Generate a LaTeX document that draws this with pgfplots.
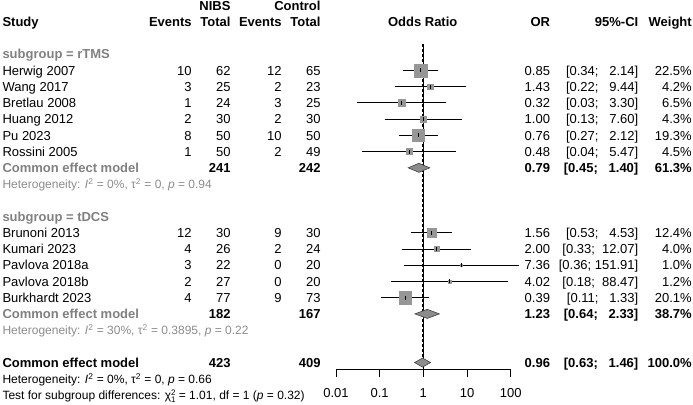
\documentclass[border=0pt]{standalone}
\usepackage{pgfplots}
\pgfplotsset{compat=1.18}
\usepackage{pgfplotstable}
\usepackage{fontspec}
\setmainfont{Liberation Sans}
\definecolor{sqgray}{RGB}{150,150,150}
\definecolor{dmgray}{RGB}{140,140,140}
\definecolor{lblgray}{RGB}{128,128,128}
\definecolor{hetgray}{RGB}{140,140,140}

% row = -(row index of the forest plot)
\pgfplotstableread{
row  or    lo    hi      w
-4   0.85  0.34  2.14    22.5
-5   1.43  0.22  9.44    4.2
-6   0.32  0.03  3.30    6.5
-7   1.00  0.13  7.60    4.3
-8   0.76  0.27  2.12    19.3
-9   0.48  0.04  5.47    4.5
-14  1.56  0.53  4.53    12.4
-15  2.00  0.33  12.07   4.0
-16  7.36  0.36  151.91  1.0
-17  4.02  0.18  88.47   1.2
-18  0.39  0.11  1.33    20.1
}\studies

\newcommand\yy[1]{-(10.2+16.23*#1)}
\newcommand\Lt[2]{\node[anchor=base west] at (2.5,{\yy{#1}}) {#2};}
\newcommand\Rt[3]{\node[anchor=base east] at (#1,{\yy{#2}}) {#3};}
\newcommand\Ct[3]{\node[anchor=base] at (#1,{\yy{#2}}) {#3};}
\newcommand\study[9]{\Lt{#1}{#2}\Rt{191.7}{#1}{#3}\Rt{230.5}{#1}{#4}\Rt{281.7}{#1}{#5}\Rt{320.5}{#1}{#6}\Rt{550}{#1}{#7}\Rt{638.3}{#1}{#8}\Rt{691.7}{#1}{#9}}
\newcommand\hetfont{\fontsize{12bp}{14bp}\selectfont}
\newcommand\sq{\textsuperscript{2}}
\newcommand\smallfig[1]{{\fontsize{8bp}{8bp}\selectfont #1}}

\begin{document}
\fontsize{13bp}{15.6bp}\selectfont
\begin{tikzpicture}[x=1bp,y=1bp]
\path[use as bounding box] (0,0) rectangle (693,-404);
\begin{axis}[
  at={(336bp,-369.3bp)}, anchor=south west,
  scale only axis, width=174.7bp, height=369.3bp,
  xmode=log, xmin=0.01, xmax=100,
  ymin=-22.415, ymax=0.3389,
  axis x line*=bottom, axis y line=none,
  xtick={0.01,0.1,1,10,100},
  xticklabels={0.01,0.1,1,10,100},
  xminorticks=false,
  xtick align=outside, major tick length=7.7bp,
  axis line style={line width=0.9bp, black},
  every tick/.style={line width=0.9bp, black},
  xticklabel style={anchor=base, yshift=-20bp},
  clip=false,
]
% reference lines
\addplot[black, line width=0.8bp] coordinates {(1,-2.4) (1,-22.415)};
\addplot[black, line width=0.8bp, dash pattern=on 3bp off 2bp] coordinates {(0.96,-2.4) (0.96,-22.415)};
% squares
\addplot[scatter, only marks, mark=square*,
  scatter/use mapped color={draw=sqgray, fill=sqgray},
  visualization depends on={\thisrow{w} \as \wt},
  scatter/@pre marker code/.append style={/tikz/mark size={1.37*sqrt(\wt)}}]
  table[x=or, y=row] {\studies};
% confidence intervals
\addplot[black, line width=0.9bp] coordinates {(0.34,-4) (2.14,-4)};
\addplot[black, line width=0.9bp] coordinates {(0.22,-5) (9.44,-5)};
\addplot[black, line width=0.9bp] coordinates {(0.03,-6) (3.30,-6)};
\addplot[black, line width=0.9bp] coordinates {(0.13,-7) (7.60,-7)};
\addplot[black, line width=0.9bp] coordinates {(0.27,-8) (2.12,-8)};
\addplot[black, line width=0.9bp] coordinates {(0.04,-9) (5.47,-9)};
\addplot[black, line width=0.9bp] coordinates {(0.53,-14) (4.53,-14)};
\addplot[black, line width=0.9bp] coordinates {(0.33,-15) (12.07,-15)};
\addplot[black, line width=0.9bp] coordinates {(0.36,-16) (151.91,-16)};
\addplot[black, line width=0.9bp] coordinates {(0.18,-17) (88.47,-17)};
\addplot[black, line width=0.9bp] coordinates {(0.11,-18) (1.33,-18)};
% point estimates
\addplot[only marks, mark=|, mark size=2bp, black, mark options={line width=0.8bp}] table[x=or, y=row] {\studies};
% diamonds
\addplot[fill=dmgray, draw=black!75, line width=0.6bp] coordinates {(0.45,-10) (0.79,-9.72) (1.40,-10) (0.79,-10.28)} -- cycle;
\addplot[fill=dmgray, draw=black!75, line width=0.6bp] coordinates {(0.64,-19) (1.23,-18.72) (2.33,-19) (1.23,-19.28)} -- cycle;
\addplot[fill=dmgray, draw=black!75, line width=0.6bp] coordinates {(0.63,-22) (0.96,-21.72) (1.46,-22) (0.96,-22.28)} -- cycle;
\end{axis}

\begin{scope}[every node/.style={inner sep=0pt, outer sep=0pt}]
% header
\Rt{230.5}{0}{\bfseries NIBS}
\Rt{320.5}{0}{\bfseries Control}
\Lt{1}{\bfseries Study}
\Rt{191.7}{1}{\bfseries Events}
\Rt{230.5}{1}{\bfseries Total}
\Rt{281.7}{1}{\bfseries Events}
\Rt{320.5}{1}{\bfseries Total}
\Ct{422.7}{1}{\bfseries Odds Ratio}
\Rt{550}{1}{\bfseries OR}
\Rt{638.3}{1}{\bfseries 95\%-CI}
\Rt{691.7}{1}{\bfseries Weight}
% rTMS
\Lt{3}{\color{lblgray}\bfseries subgroup = rTMS}
\study{4}{Herwig 2007}{10}{62}{12}{65}{0.85}{[0.34;\ \ \ 2.14]}{22.5\%}
\study{5}{Wang 2017}{3}{25}{2}{23}{1.43}{[0.22;\ \ \ 9.44]}{4.2\%}
\study{6}{Bretlau 2008}{1}{24}{3}{25}{0.32}{[0.03;\ \ \ 3.30]}{6.5\%}
\study{7}{Huang 2012}{2}{30}{2}{30}{1.00}{[0.13;\ \ \ 7.60]}{4.3\%}
\study{8}{Pu 2023}{8}{50}{10}{50}{0.76}{[0.27;\ \ \ 2.12]}{19.3\%}
\study{9}{Rossini 2005}{1}{50}{2}{49}{0.48}{[0.04;\ \ \ 5.47]}{4.5\%}
\Lt{10}{\color{lblgray}\bfseries Common effect model}
\Rt{230.5}{10}{\bfseries 241}
\Rt{320.5}{10}{\bfseries 242}
\Rt{550}{10}{\bfseries 0.79}
\Rt{638.3}{10}{\bfseries [0.45;\ \ \ 1.40]}
\Rt{691.7}{10}{\bfseries 61.3\%}
\Lt{11}{\hetfont\color{hetgray}Heterogeneity: \textit{I}\sq{} = 0\%, τ\sq{} = 0, \textit{p} = 0.94}
% tDCS
\Lt{13}{\color{lblgray}\bfseries subgroup = tDCS}
\study{14}{Brunoni 2013}{12}{30}{9}{30}{1.56}{[0.53;\ \ \ 4.53]}{12.4\%}
\study{15}{Kumari 2023}{4}{26}{2}{24}{2.00}{[0.33;\ \ 12.07]}{4.0\%}
\study{16}{Pavlova 2018a}{3}{22}{0}{20}{7.36}{[0.36;\ 151.91]}{1.0\%}
\study{17}{Pavlova 2018b}{2}{27}{0}{20}{4.02}{[0.18;\ \ 88.47]}{1.2\%}
\study{18}{Burkhardt 2023}{4}{77}{9}{73}{0.39}{[0.11;\ \ \ 1.33]}{20.1\%}
\Lt{19}{\color{lblgray}\bfseries Common effect model}
\Rt{230.5}{19}{\bfseries 182}
\Rt{320.5}{19}{\bfseries 167}
\Rt{550}{19}{\bfseries 1.23}
\Rt{638.3}{19}{\bfseries [0.64;\ \ \ 2.33]}
\Rt{691.7}{19}{\bfseries 38.7\%}
\Lt{20}{\hetfont\color{hetgray}Heterogeneity: \textit{I}\sq{} = 30\%, τ\sq{} = 0.3895, \textit{p} = 0.22}
% overall
\Lt{22}{\bfseries Common effect model}
\Rt{230.5}{22}{\bfseries 423}
\Rt{320.5}{22}{\bfseries 409}
\Rt{550}{22}{\bfseries 0.96}
\Rt{638.3}{22}{\bfseries [0.63;\ \ \ 1.46]}
\Rt{691.7}{22}{\bfseries 100.0\%}
\Lt{23}{\hetfont Heterogeneity: \textit{I}\sq{} = 0\%, τ\sq{} = 0, \textit{p} = 0.66}
\Lt{24}{\hetfont Test for subgroup differences: χ\rlap{\raisebox{4.6bp}{\smallfig{2}}}\raisebox{-2.6bp}{\smallfig{1}} = 1.01, df = 1 (\textit{p} = 0.32)}
\end{scope}
\end{tikzpicture}
\end{document}
